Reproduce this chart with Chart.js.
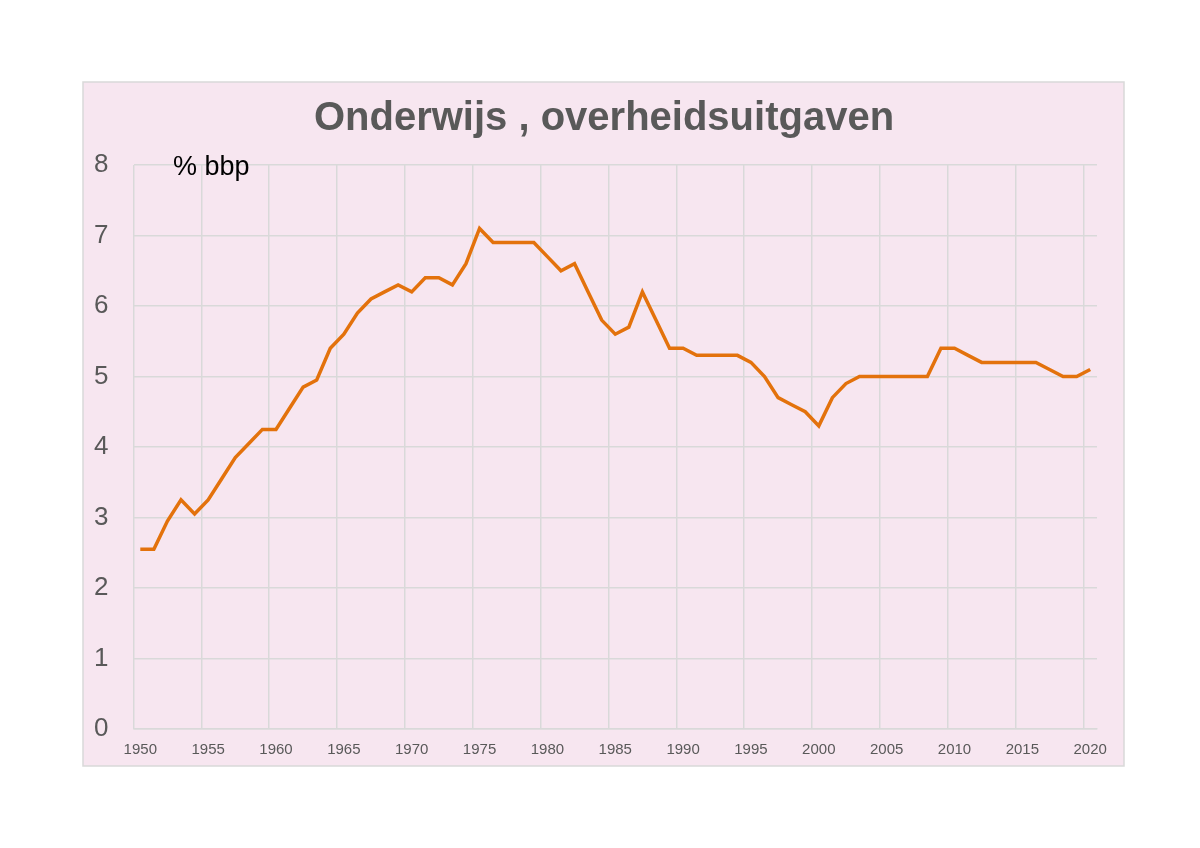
<!DOCTYPE html>
<html>
<head>
<meta charset="utf-8">
<title>Onderwijs , overheidsuitgaven</title>
<script src="https://cdn.jsdelivr.net/npm/chart.js@4"></script>
<style>
  html, body { margin: 0; padding: 0; background: #ffffff; }
  #wrap { position: absolute; left: 0; top: 0; width: 1200px; height: 848px; }
</style>
</head>
<body>
<div id="wrap"><canvas id="eduChart" width="1200" height="848"></canvas></div>
<script>
// Years on the category axis
const years = [
  "1950", "1951", "1952", "1953", "1954", "1955", "1956", "1957", "1958", "1959",
  "1960", "1961", "1962", "1963", "1964", "1965", "1966", "1967", "1968", "1969",
  "1970", "1971", "1972", "1973", "1974", "1975", "1976", "1977", "1978", "1979",
  "1980", "1981", "1982", "1983", "1984", "1985", "1986", "1987", "1988", "1989",
  "1990", "1991", "1992", "1993", "1994", "1995", "1996", "1997", "1998", "1999",
  "2000", "2001", "2002", "2003", "2004", "2005", "2006", "2007", "2008", "2009",
  "2010", "2011", "2012", "2013", "2014", "2015", "2016", "2017", "2018", "2019",
  "2020"
];

// Government spending on education, % of GDP
const spending = [
  2.55, 2.55, 2.95, 3.25, 3.05, 3.25, 3.55, 3.85, 4.05, 4.25,
  4.25, 4.55, 4.85, 4.95, 5.4, 5.6, 5.9, 6.1, 6.2, 6.3,
  6.2, 6.4, 6.4, 6.3, 6.6, 7.1, 6.9, 6.9, 6.9, 6.9,
  6.7, 6.5, 6.6, 6.2, 5.8, 5.6, 5.7, 6.2, 5.8, 5.4,
  5.4, 5.3, 5.3, 5.3, 5.3, 5.2, 5.0, 4.7, 4.6, 4.5,
  4.3, 4.7, 4.9, 5.0, 5.0, 5.0, 5.0, 5.0, 5.0, 5.4,
  5.4, 5.3, 5.2, 5.2, 5.2, 5.2, 5.2, 5.1, 5.0, 5.0,
  5.1
];

// Labelled years on the x axis and value ticks on the y axis
const xTickLabels = ["1950", "1955", "1960", "1965", "1970", "1975", "1980",
  "1985", "1990", "1995", "2000", "2005", "2010", "2015", "2020"];
const yTicks = [0, 1, 2, 3, 4, 5, 6, 7, 8];

const chartTitle = "Onderwijs , overheidsuitgaven";
const unitLabel = "% bbp";

const gridColor = "#d9d9d9";
const textGray = "#595959";

// Pink box behind the chart, plus title and unit text
const frame = {
  id: "frame",
  beforeDraw(chart) {
    const c = chart.ctx;
    c.save();
    c.fillStyle = "#ffffff";
    c.fillRect(0, 0, chart.width, chart.height);
    c.fillStyle = "#f7e6f0";
    c.fillRect(83, 82, 1041, 684);
    c.strokeStyle = gridColor;
    c.lineWidth = 1.5;
    c.strokeRect(83, 82, 1041, 684);
    c.restore();
  },
  afterDraw(chart) {
    const c = chart.ctx;
    c.save();
    c.fillStyle = textGray;
    c.font = "bold 40px 'Liberation Sans', Arial, sans-serif";
    c.textAlign = "center";
    c.textBaseline = "alphabetic";
    c.fillText(chartTitle, 604, 130);
    c.fillStyle = "#000000";
    c.font = "27px 'Liberation Sans', Arial, sans-serif";
    c.textAlign = "left";
    c.fillText(unitLabel, 173, 175);
    c.restore();
  }
};

new Chart(document.getElementById("eduChart"), {
  type: "line",
  data: {
    labels: years,
    datasets: [{
      label: "Onderwijs",
      data: spending,
      borderColor: "#e3720c",
      borderWidth: 3.5,
      pointRadius: 0,
      tension: 0,
      fill: false
    }]
  },
  options: {
    responsive: false,
    animation: false,
    devicePixelRatio: 1,
    layout: {
      padding: { left: 0, right: 103, top: 165, bottom: 79 }
    },
    plugins: {
      legend: { display: false },
      title: { display: false },
      tooltip: { enabled: false }
    },
    scales: {
      x: {
        type: "category",
        offset: true,
        afterFit(scale) { scale.height = 40; },
        grid: {
          offset: true,
          drawTicks: false,
          lineWidth: 1.5,
          color: ctx => (ctx.tick && xTickLabels.includes(years[ctx.index])) ? gridColor : "rgba(0,0,0,0)"
        },
        border: { display: true, color: gridColor, width: 1.5 },
        ticks: {
          autoSkip: false,
          maxRotation: 0,
          padding: 12,
          color: textGray,
          font: { family: "'Liberation Sans', Arial, sans-serif", size: 15 },
          callback: function (value, index) {
            const y = years[index];
            return xTickLabels.includes(y) ? y : "";
          }
        }
      },
      y: {
        min: yTicks[0],
        max: yTicks[yTicks.length - 1],
        afterFit(scale) { scale.width = 133.5; },
        afterBuildTicks(scale) { scale.ticks = yTicks.map(v => ({ value: v })); },
        grid: { color: gridColor, lineWidth: 1.5, drawTicks: false },
        border: { display: false },
        ticks: {
          padding: 25,
          color: textGray,
          font: { family: "'Liberation Sans', Arial, sans-serif", size: 26 }
        }
      }
    }
  },
  plugins: [frame]
});
</script>
</body>
</html>
